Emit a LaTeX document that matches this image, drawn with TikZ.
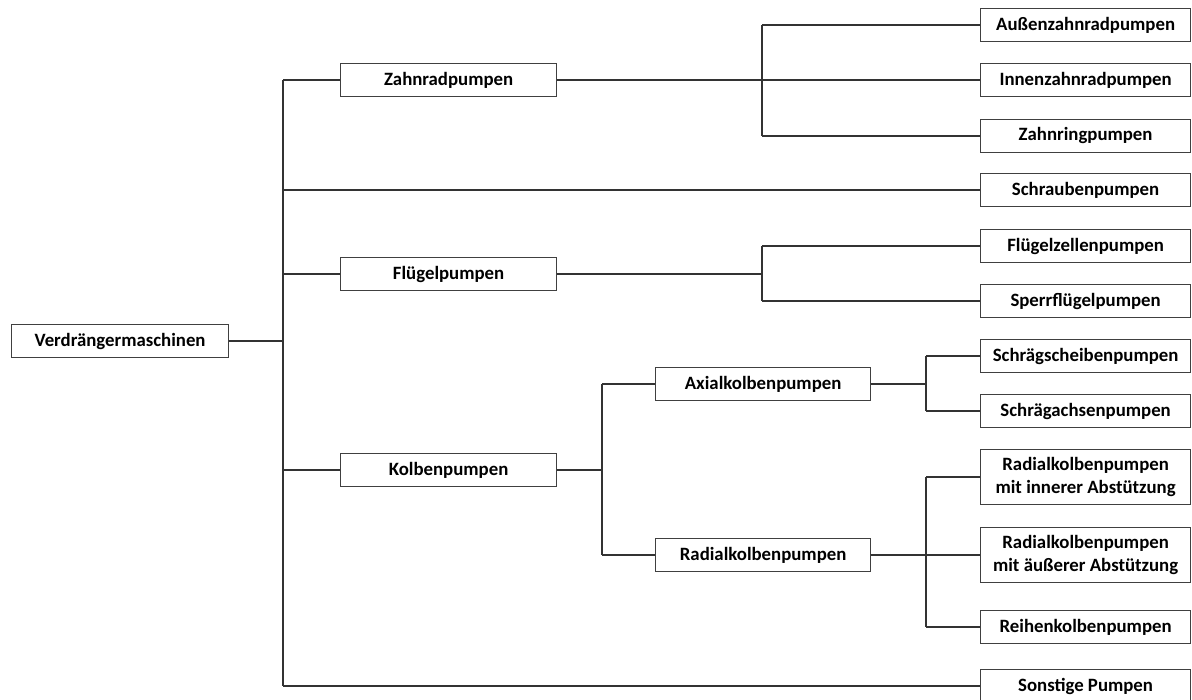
\documentclass[tikz,border=0pt]{standalone}
\usepackage{fontspec}
\setmainfont{Carlito}
\begin{document}
\begin{tikzpicture}[x=1pt,y=-1pt,
  box/.style={draw=black!75, line width=1.2pt, fill=white, inner sep=0pt, align=center,
    font=\fontsize{18.8}{22.5}\selectfont\bfseries, text=black, anchor=west},
  lvl0/.style={box, minimum width=217pt, minimum height=33pt},
  lvl1/.style={box, minimum width=216pt, minimum height=33pt},
  lvl2/.style={box, minimum width=215pt, minimum height=33pt},
  leaf/.style={box, minimum width=210pt, minimum height=33pt},
  leaftwo/.style={box, minimum width=210pt, minimum height=55pt},
  conn/.style={draw=black!80, line width=1.2pt}]
\useasboundingbox (0,0) rectangle (1192,700);
% nodes
\node[lvl0] (root) at (11,341) {Verdrängermaschinen};
\node[lvl1] (zahn) at (340,80) {Zahnradpumpen};
\node[lvl1] (fluegel) at (340,274) {Flügelpumpen};
\node[lvl1] (kolben) at (340,470) {Kolbenpumpen};
\node[lvl2] (axial) at (655,384) {Axialkolbenpumpen};
\node[lvl2] (radial) at (655,555) {Radialkolbenpumpen};
\node[leaf] (aussen) at (980,25) {Außenzahnradpumpen};
\node[leaf] (innen) at (980,80) {Innenzahnradpumpen};
\node[leaf] (ring) at (980,136) {Zahnringpumpen};
\node[leaf] (schraub) at (980,190) {Schraubenpumpen};
\node[leaf] (zellen) at (980,246) {Flügelzellenpumpen};
\node[leaf] (sperr) at (980,301) {Sperrflügelpumpen};
\node[leaf] (scheibe) at (980,356) {Schrägscheibenpumpen};
\node[leaf] (achse) at (980,411) {Schrägachsenpumpen};
\node[leaftwo] (rinnen) at (980,477) {Radialkolbenpumpen\\mit innerer Abstützung};
\node[leaftwo] (raussen) at (980,555) {Radialkolbenpumpen\\mit äußerer Abstützung};
\node[leaf] (reihe) at (980,627) {Reihenkolbenpumpen};
\node[leaf] (sonst) at (980,686) {Sonstige Pumpen};
% bus coordinates
\coordinate (tr) at (283,0);
\coordinate (bz) at (762,0);
\coordinate (bk) at (602,0);
\coordinate (ba) at (926,0);
% trunk
\draw[conn] (root.east) -- (root.east -| tr);
\draw[conn] (zahn.west -| tr) -- (sonst.west -| tr);
\draw[conn] (zahn.west -| tr) -- (zahn.west);
\draw[conn] (schraub.west -| tr) -- (schraub.west);
\draw[conn] (fluegel.west -| tr) -- (fluegel.west);
\draw[conn] (kolben.west -| tr) -- (kolben.west);
\draw[conn] (sonst.west -| tr) -- (sonst.west);
% Zahnrad
\draw[conn] (zahn.east) -- (innen.west);
\draw[conn] (aussen.west -| bz) -- (ring.west -| bz);
\draw[conn] (aussen.west -| bz) -- (aussen.west);
\draw[conn] (ring.west -| bz) -- (ring.west);
% Flügel
\draw[conn] (fluegel.east) -- (fluegel.east -| bz);
\draw[conn] (zellen.west -| bz) -- (sperr.west -| bz);
\draw[conn] (zellen.west -| bz) -- (zellen.west);
\draw[conn] (sperr.west -| bz) -- (sperr.west);
% Kolben
\draw[conn] (kolben.east) -- (kolben.east -| bk);
\draw[conn] (axial.west -| bk) -- (radial.west -| bk);
\draw[conn] (axial.west -| bk) -- (axial.west);
\draw[conn] (radial.west -| bk) -- (radial.west);
% Axial
\draw[conn] (axial.east) -- (axial.east -| ba);
\draw[conn] (scheibe.west -| ba) -- (achse.west -| ba);
\draw[conn] (scheibe.west -| ba) -- (scheibe.west);
\draw[conn] (achse.west -| ba) -- (achse.west);
% Radial
\draw[conn] (radial.east) -- (raussen.west);
\draw[conn] (rinnen.west -| ba) -- (reihe.west -| ba);
\draw[conn] (rinnen.west -| ba) -- (rinnen.west);
\draw[conn] (reihe.west -| ba) -- (reihe.west);
\end{tikzpicture}
\end{document}
